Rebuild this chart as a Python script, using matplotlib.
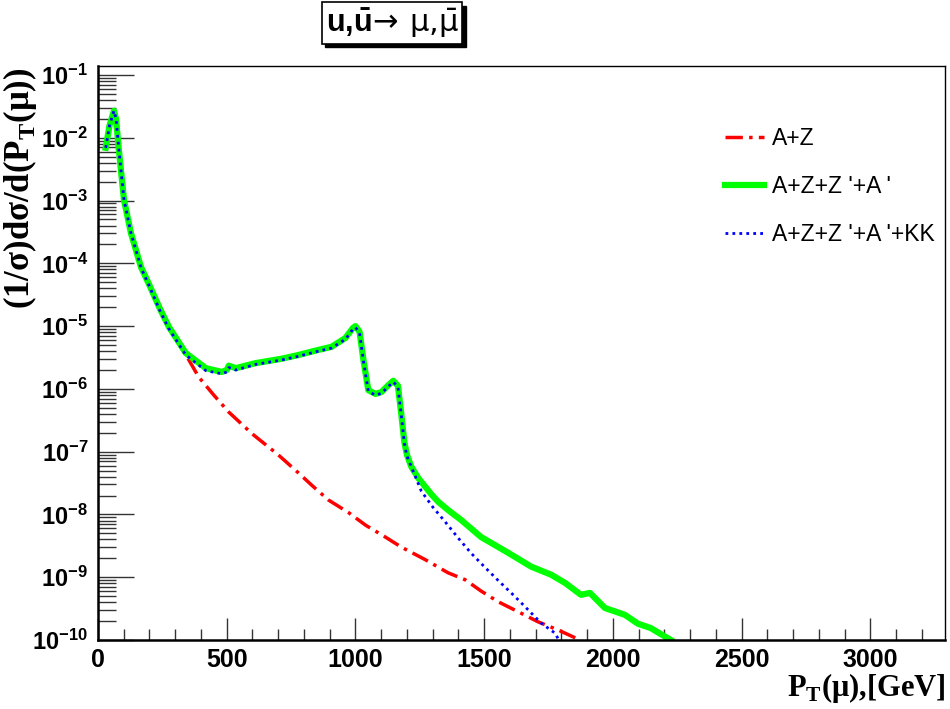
import numpy as np
import matplotlib
matplotlib.use("Agg")
import matplotlib.pyplot as plt
from matplotlib.ticker import MultipleLocator, LogLocator, FuncFormatter
from matplotlib.transforms import offset_copy

plt.rcParams['mathtext.fontset'] = 'dejavusans'
plt.rcParams['axes.unicode_minus'] = False

# P_T values [GeV] and log10 of (1/sigma) dsigma/dP_T
pt_az = [30, 45, 62, 70, 81, 101, 128, 167, 200, 240, 275, 300, 353, 391, 450, 508,
         600, 700, 779, 829, 895, 973, 1039, 1116, 1178, 1271, 1360, 1426, 1488,
         1554, 1632, 1709, 1787, 1872]
lg_az = [-2.16, -1.80, -1.57, -1.70, -2.19, -2.99, -3.52, -4.04, -4.32, -4.68, -4.98,
         -5.18, -5.54, -5.81, -6.10, -6.37, -6.72, -7.05, -7.34, -7.53, -7.77, -7.97,
         -8.17, -8.36, -8.52, -8.72, -8.93, -9.04, -9.22, -9.39, -9.55, -9.71, -9.84,
         -10.0]

pt_zp = [30, 45, 62, 70, 81, 101, 128, 167, 200, 240, 275, 341, 419, 481, 500, 508,
         535, 612, 713, 779, 845, 907, 961, 990, 1000, 1016, 1031, 1050, 1078, 1101,
         1128, 1147, 1165, 1178, 1190, 1200, 1217, 1244, 1295, 1322, 1360, 1411, 1488,
         1593, 1682, 1760, 1814, 1876, 1911, 1969, 2047, 2097, 2147, 2225]
lg_zp = [-2.16, -1.80, -1.57, -1.70, -2.19, -2.99, -3.52, -4.06, -4.35, -4.72, -5.01,
         -5.43, -5.67, -5.73, -5.70, -5.63, -5.67, -5.59, -5.52, -5.46, -5.39, -5.33,
         -5.19, -5.03, -5.00, -5.09, -5.54, -6.02, -6.08, -6.05, -5.94, -5.87, -5.95,
         -6.40, -6.85, -7.05, -7.24, -7.42, -7.68, -7.80, -7.93, -8.09, -8.36, -8.61,
         -8.83, -8.96, -9.09, -9.28, -9.25, -9.49, -9.60, -9.74, -9.81, -10.0]

pt_kk = [30, 45, 62, 70, 81, 101, 128, 167, 200, 240, 275, 341, 419, 481, 500, 508,
         535, 612, 713, 779, 845, 907, 961, 990, 1000, 1016, 1031, 1050, 1078, 1101,
         1128, 1147, 1165, 1178, 1190, 1200, 1256, 1300, 1349, 1400, 1450, 1500, 1554,
         1610, 1659, 1721, 1775, 1790]
lg_kk = [-2.16, -1.80, -1.57, -1.70, -2.19, -2.99, -3.52, -4.07, -4.37, -4.75, -5.04,
         -5.46, -5.71, -5.76, -5.73, -5.66, -5.70, -5.61, -5.54, -5.48, -5.41, -5.35,
         -5.21, -5.05, -5.02, -5.11, -5.56, -6.04, -6.10, -6.07, -5.96, -5.89, -5.97,
         -6.42, -6.87, -7.07, -7.63, -7.88, -8.12, -8.38, -8.62, -8.83, -9.05, -9.27,
         -9.47, -9.73, -9.89, -10.0]

labels = ["A+Z", "A+Z+Z '+A '", "A+Z+Z '+A '+KK"]

fig = plt.figure(figsize=(9.5, 7.09), dpi=100)
ax = fig.add_axes([98/950, 1-640/709, 847/950, 574/709])

ax.plot(pt_az, 10**np.array(lg_az), color='#ff0000', lw=2.5,
        dashes=(5, 1.8, 1, 1.8), label=labels[0])
ax.plot(pt_zp, 10**np.array(lg_zp), color='#00ff00', lw=4.5, label=labels[1])
ax.plot(pt_kk, 10**np.array(lg_kk), color='#0000ff', lw=2.0,
        dashes=(1, 1.5), label=labels[2])

ax.set_yscale('log')
ax.set_xlim(0, 3290)
ax.set_ylim(1e-10, 10**-0.857)

ax.xaxis.set_major_locator(MultipleLocator(500))
ax.xaxis.set_minor_locator(MultipleLocator(100))
ax.yaxis.set_major_locator(LogLocator(base=10, numticks=20))
ax.yaxis.set_minor_locator(LogLocator(base=10, subs=np.arange(2, 10), numticks=20))
ax.yaxis.set_minor_formatter(plt.NullFormatter())
ax.yaxis.set_major_formatter(FuncFormatter(
    lambda v, p: r'$\mathregular{10^{%d}}$' % round(np.log10(v))))

ax.tick_params(axis='both', which='both', direction='in', top=False, right=False,
               width=1, color='#333333')
ax.tick_params(axis='x', which='major', length=16, pad=6)
ax.tick_params(axis='x', which='minor', length=8)
ax.tick_params(axis='y', which='major', length=26, pad=7)
ax.tick_params(axis='y', which='minor', length=13)
for lab in ax.get_xticklabels():
    lab.set_fontfamily('Liberation Sans')
    lab.set_fontweight('bold')
    lab.set_fontsize(18)
for lab in ax.get_yticklabels():
    lab.set_fontfamily('Liberation Sans')
    lab.set_fontweight('bold')
    lab.set_fontsize(17)

for s in ['left', 'bottom']:
    ax.spines[s].set_linewidth(1.8)
for s in ['top', 'right']:
    ax.spines[s].set_linewidth(1.0)

leg = ax.legend(loc='upper left', bbox_to_anchor=(704/950, 1-106/709),
                bbox_transform=fig.transFigure, frameon=False,
                prop={'family': 'Liberation Sans', 'size': 16.5},
                handlelength=1.7, handletextpad=0.35, labelspacing=1.1)

fig.text(20/950, 1-67/709, r'(1/σ)dσ/d(P$_\mathregular{T}$(μ))', rotation=90,
         ha='center', va='top', fontfamily='Liberation Serif', fontweight='bold',
         fontsize=25)
fig.text(946/950, 1-688/709, r'P$_\mathregular{T}$(μ),[GeV]', ha='right',
         va='center', fontfamily='Liberation Serif', fontweight='bold', fontsize=22)

title = r'$\mathregular{u{,}\bar{u}}\!\rightarrow\,\mathrm{\mu}{,}\bar{\mathrm{\mu}}$'
tkw = dict(ha='center', va='center', fontfamily='Liberation Sans', fontweight='bold',
           fontsize=22)
shadow_tr = offset_copy(fig.transFigure, fig=fig, x=3.5, y=-3.5, units='dots')
fig.text(392/950, 1-23/709, title, transform=shadow_tr, color='none',
         bbox=dict(boxstyle='square,pad=0.12', fc='black', ec='black'), **tkw)
fig.text(392/950, 1-23/709, title, color='black',
         bbox=dict(boxstyle='square,pad=0.12', fc='white', ec='black', lw=1.2), **tkw)

fig.savefig('out.png', dpi=100)
